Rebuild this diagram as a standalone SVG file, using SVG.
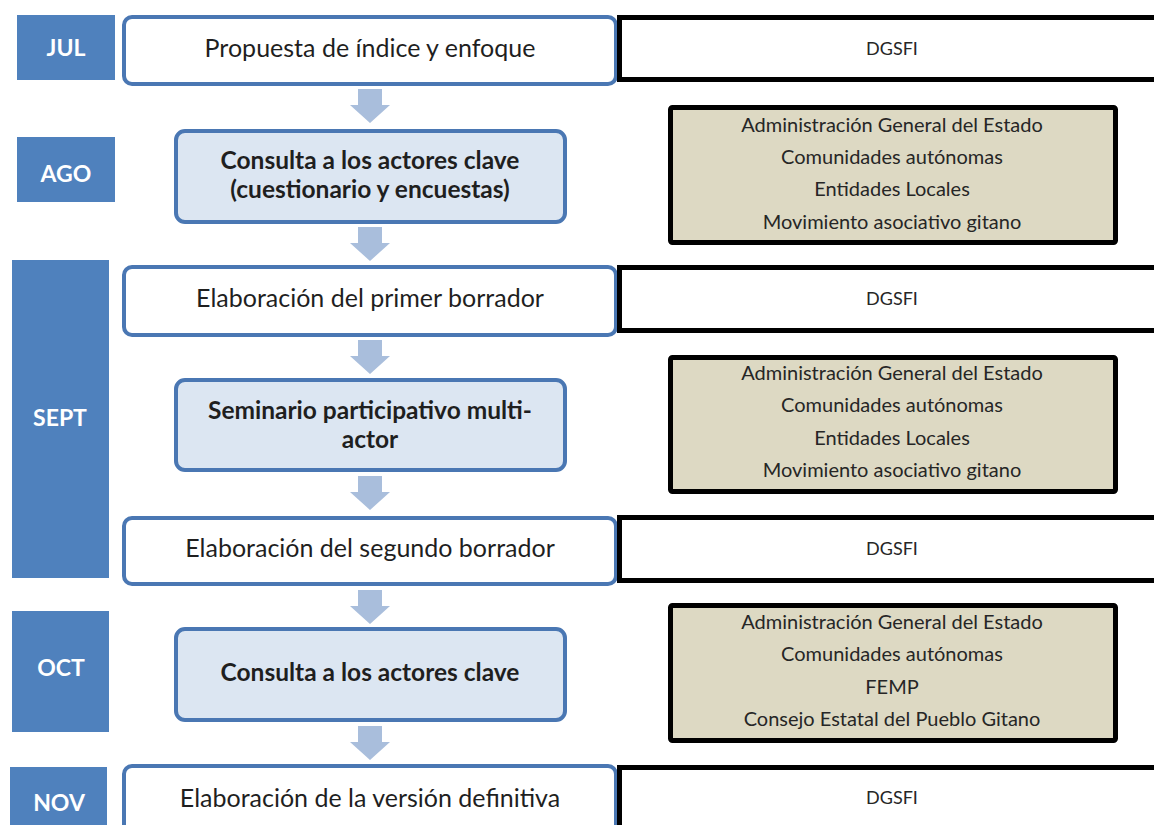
<svg xmlns="http://www.w3.org/2000/svg" width="1154" height="825" viewBox="0 0 1154 825">
<style>
.month{fill:#4f81bd}
.mtxt{font-family:Lato,"Liberation Sans",sans-serif;font-weight:bold;font-size:23px;fill:#ffffff;text-anchor:middle}
.step{fill:#ffffff;stroke:#4a77b3;stroke-width:4}
.key{fill:#dce6f2;stroke:#4a77b3;stroke-width:4}
.stxt{font-family:Lato,"Liberation Sans",sans-serif;font-size:25px;fill:#1f1f1f;text-anchor:middle}
.ktxt{font-family:Lato,"Liberation Sans",sans-serif;font-weight:bold;font-size:24.5px;fill:#1f1f1f;text-anchor:middle}
.who{fill:#ffffff;stroke:#000000;stroke-width:5}
.tan{fill:#ddd9c3;stroke:#000000;stroke-width:5}
.wtxt{font-family:Lato,"Liberation Sans",sans-serif;font-size:20px;fill:#262626;text-anchor:middle}
.dtxt{font-family:Lato,"Liberation Sans",sans-serif;font-size:18px;fill:#262626;text-anchor:middle}
.arr{fill:#a9bedc}
</style>
<defs>
<path id="dn" d="M-12,0 H12 V16 H20 L0,34 L-20,16 H-12 Z"/>
</defs>

<g id="months">
<g id="m-jul"><rect class="month" x="17" y="15" width="98" height="65"/><text class="mtxt" x="66" y="56">JUL</text></g>
<g id="m-ago"><rect class="month" x="17" y="137" width="98" height="65"/><text class="mtxt" x="66" y="182">AGO</text></g>
<g id="m-sept"><rect class="month" x="12" y="260" width="97" height="318"/><text class="mtxt" x="60" y="426">SEPT</text></g>
<g id="m-oct"><rect class="month" x="12" y="611" width="97" height="121"/><text class="mtxt" x="61" y="676">OCT</text></g>
<g id="m-nov"><rect class="month" x="10" y="767" width="97" height="62"/><text class="mtxt" x="59" y="811">NOV</text></g>
</g>

<g id="connectors">
<use href="#dn" class="arr" x="370" y="89"/>
<use href="#dn" class="arr" x="370" y="227"/>
<use href="#dn" class="arr" x="370" y="340"/>
<use href="#dn" class="arr" x="370" y="476"/>
<use href="#dn" class="arr" x="370" y="590"/>
<use href="#dn" class="arr" x="370" y="726"/>
</g>

<g id="s1"><rect class="step" x="124" y="17" width="492" height="67" rx="8"/><text class="stxt" x="370" y="57">Propuesta de índice y enfoque</text></g>
<g id="s2"><rect class="key" x="176" y="131" width="389" height="91" rx="9"/><text class="ktxt" x="370" y="169">Consulta a los actores clave</text><text class="ktxt" x="370" y="198">(cuestionario y encuestas)</text></g>
<g id="s3"><rect class="step" x="124" y="267" width="492" height="68" rx="8"/><text class="stxt" x="370" y="307">Elaboración del primer borrador</text></g>
<g id="s4"><rect class="key" x="176" y="380" width="389" height="90" rx="9"/><text class="ktxt" x="370" y="419">Seminario participativo multi-</text><text class="ktxt" x="370" y="448">actor</text></g>
<g id="s5"><rect class="step" x="124" y="518" width="492" height="66" rx="8"/><text class="stxt" x="370" y="557">Elaboración del segundo borrador</text></g>
<g id="s6"><rect class="key" x="176" y="629" width="389" height="91" rx="9"/><text class="ktxt" x="370" y="681">Consulta a los actores clave</text></g>
<g id="s7"><rect class="step" x="124" y="766" width="492" height="70" rx="8"/><text class="stxt" x="370" y="807">Elaboración de la versión definitiva</text></g>

<g id="w1"><rect class="who" x="619.5" y="17.5" width="545" height="62"/><text class="dtxt" x="892" y="55">DGSFI</text></g>
<g id="w2"><rect class="tan" x="670.5" y="107.5" width="445" height="135" rx="2"/>
<text class="wtxt" x="892" y="132">Administración General del Estado</text>
<text class="wtxt" x="892" y="164">Comunidades autónomas</text>
<text class="wtxt" x="892" y="196">Entidades Locales</text>
<text class="wtxt" x="892" y="229">Movimiento asociativo gitano</text></g>
<g id="w3"><rect class="who" x="619.5" y="267.5" width="545" height="63"/><text class="dtxt" x="892" y="305">DGSFI</text></g>
<g id="w4"><rect class="tan" x="670.5" y="357.5" width="445" height="134" rx="2"/>
<text class="wtxt" x="892" y="380">Administración General del Estado</text>
<text class="wtxt" x="892" y="412">Comunidades autónomas</text>
<text class="wtxt" x="892" y="445">Entidades Locales</text>
<text class="wtxt" x="892" y="477">Movimiento asociativo gitano</text></g>
<g id="w5"><rect class="who" x="619.5" y="517.5" width="545" height="63"/><text class="dtxt" x="892" y="555">DGSFI</text></g>
<g id="w6"><rect class="tan" x="670.5" y="605.5" width="445" height="135" rx="2"/>
<text class="wtxt" x="892" y="629">Administración General del Estado</text>
<text class="wtxt" x="892" y="661">Comunidades autónomas</text>
<text class="wtxt" x="892" y="694">FEMP</text>
<text class="wtxt" x="892" y="726">Consejo Estatal del Pueblo Gitano</text></g>
<g id="w7"><rect class="who" x="619.5" y="767.5" width="545" height="70"/><text class="dtxt" x="892" y="804">DGSFI</text></g>
</svg>
